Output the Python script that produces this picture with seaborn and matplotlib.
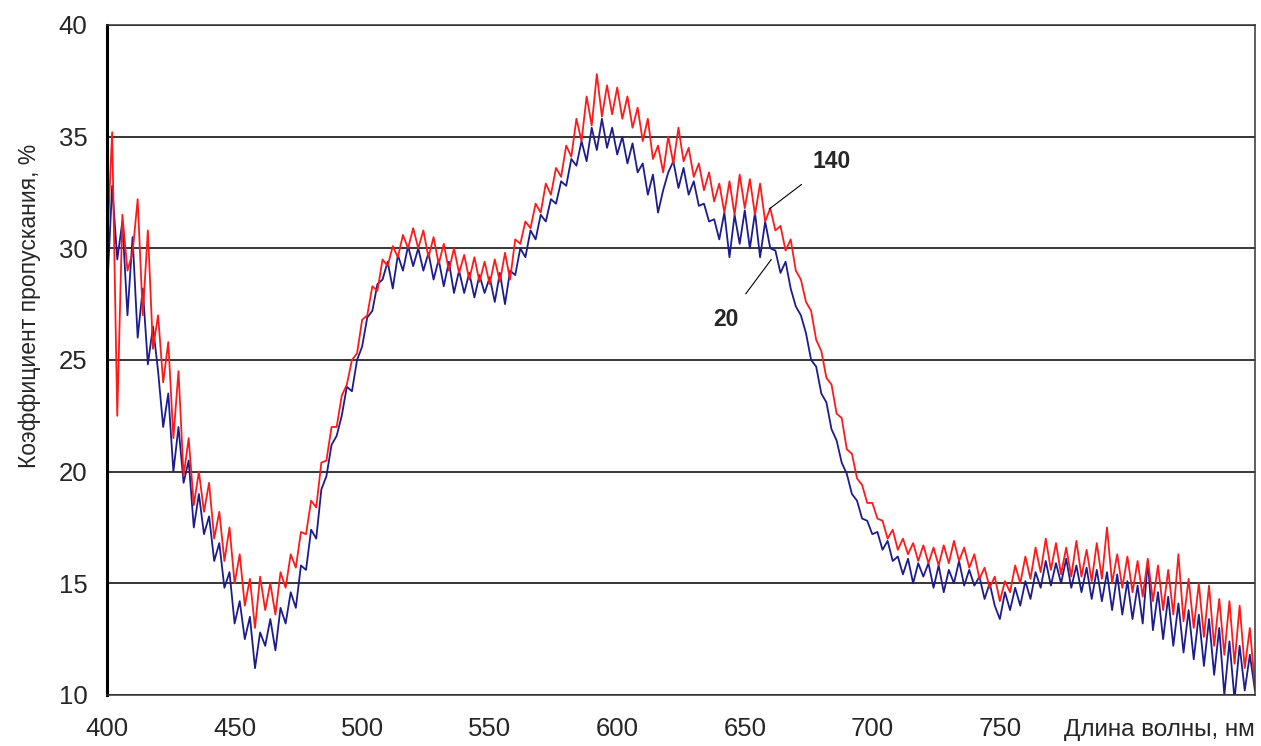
import numpy as np
import pandas as pd
import matplotlib
matplotlib.use("Agg")
import matplotlib.pyplot as plt
import seaborn as sns

# wavelength grid, nm (every 2 nm, 400..850)
wavelength = list(range(400, 852, 2))

# transmission, %  -- sample "20"
t_20 = [
    28.0, 32.8, 29.5, 31.2, 27.0, 30.5, 26.0, 28.2, 24.8, 26.5,   # 400-418
    24.5, 22.0, 23.5, 20.0, 22.0, 19.5, 20.5, 17.5, 19.0, 17.2,   # 420-438
    18.0, 16.0, 16.8, 14.8, 15.5, 13.2, 14.2, 12.5, 13.5, 11.2,   # 440-458
    12.8, 12.2, 13.4, 12.0, 13.9, 13.2, 14.6, 13.9, 15.8, 15.6,   # 460-478
    17.4, 17.0, 19.2, 19.8, 21.2, 21.6, 22.5, 23.8, 23.6, 25.0,   # 480-498
    25.6, 26.9, 27.2, 28.4, 28.6, 29.4, 28.2, 29.7, 29.0, 30.1,   # 500-518
    29.2, 30.0, 29.0, 29.8, 28.6, 29.5, 28.3, 29.4, 28.0, 29.0,   # 520-538
    28.0, 28.9, 27.8, 28.8, 28.0, 28.7, 27.6, 28.9, 27.5, 29.0,   # 540-558
    28.8, 30.0, 29.6, 30.8, 30.4, 31.5, 31.2, 32.2, 32.0, 33.0,   # 560-578
    32.8, 34.0, 33.7, 34.8, 33.9, 35.4, 34.4, 35.8, 34.5, 35.4,   # 580-598
    34.2, 35.0, 33.8, 34.7, 33.4, 33.8, 32.4, 33.3, 31.6, 32.6,   # 600-618
    33.4, 33.9, 32.7, 33.6, 32.4, 33.0, 31.9, 32.0, 31.2, 31.3,   # 620-638
    30.4, 31.6, 29.6, 31.5, 30.2, 31.7, 30.0, 31.6, 29.6, 31.2,   # 640-658
    30.0, 29.9, 28.9, 29.4, 28.2, 27.4, 27.0, 26.2, 25.0, 24.7,   # 660-678
    23.5, 23.1, 21.9, 21.4, 20.4, 19.9, 19.0, 18.7, 17.9, 17.8,   # 680-698
    17.2, 17.3, 16.5, 16.9, 16.0, 16.2, 15.4, 16.1, 15.0, 15.9,   # 700-718
    15.3, 15.9, 14.8, 15.8, 14.6, 15.6, 15.0, 16.0, 14.9, 15.6,   # 720-738
    14.9, 15.3, 14.3, 15.0, 14.0, 13.4, 14.6, 13.8, 14.8, 14.0,   # 740-758
    15.1, 14.3, 15.5, 14.8, 16.0, 14.9, 15.9, 15.0, 16.1, 14.8,   # 760-778
    15.8, 14.6, 15.7, 14.3, 15.6, 14.2, 15.5, 13.8, 15.4, 13.6,   # 780-798
    15.1, 13.4, 14.9, 13.2, 16.0, 12.9, 14.6, 12.5, 14.4, 12.2,   # 800-818
    14.1, 11.9, 13.8, 11.6, 13.6, 11.3, 13.4, 10.9, 13.0, 10.0,   # 820-838
    12.4, 9.8, 12.2, 10.2, 11.8, 10.2,                            # 840-850
]

# transmission, %  -- sample "140"
t_140 = [
    30.0, 35.2, 22.5, 31.5, 29.0, 29.8, 32.2, 27.0, 30.8, 25.5,   # 400-418
    27.0, 24.0, 25.8, 21.5, 24.5, 19.8, 21.5, 18.5, 20.0, 18.2,   # 420-438
    19.5, 17.0, 18.2, 16.0, 17.5, 15.0, 16.3, 14.0, 15.2, 13.0,   # 440-458
    15.3, 13.8, 15.0, 13.6, 15.5, 14.8, 16.3, 15.7, 17.3, 17.2,   # 460-478
    18.7, 18.4, 20.4, 20.5, 22.0, 22.0, 23.4, 23.9, 25.0, 25.3,   # 480-498
    26.8, 27.0, 28.3, 28.1, 29.5, 29.2, 30.1, 29.6, 30.6, 30.0,   # 500-518
    30.9, 30.0, 30.8, 29.6, 30.5, 29.3, 30.2, 29.0, 30.0, 28.9,   # 520-538
    29.7, 28.6, 29.6, 28.5, 29.4, 28.4, 29.5, 28.5, 29.8, 28.6,   # 540-558
    30.4, 30.2, 31.2, 30.9, 32.0, 31.6, 32.9, 32.4, 33.6, 33.2,   # 560-578
    34.6, 34.1, 35.8, 34.8, 36.8, 35.5, 37.8, 35.9, 37.3, 36.0,   # 580-598
    37.2, 35.8, 36.8, 35.4, 36.3, 34.8, 35.8, 34.0, 34.6, 33.4,   # 600-618
    35.0, 33.8, 35.4, 33.9, 34.5, 33.2, 33.8, 32.6, 33.4, 32.1,   # 620-638
    32.9, 31.6, 33.0, 31.5, 33.3, 31.8, 33.1, 31.5, 32.9, 31.2,   # 640-658
    31.8, 30.8, 31.0, 29.9, 30.4, 29.0, 28.6, 27.6, 27.2, 25.9,   # 660-678
    25.4, 24.2, 23.9, 22.6, 22.4, 21.0, 20.8, 19.7, 19.4, 18.6,   # 680-698
    18.6, 17.9, 17.8, 17.0, 17.4, 16.5, 17.0, 16.3, 16.8, 16.0,   # 700-718
    16.7, 15.9, 16.6, 15.8, 16.7, 15.9, 16.9, 16.0, 16.6, 15.7,   # 720-738
    16.3, 15.2, 15.7, 14.8, 15.3, 14.2, 15.1, 14.6, 15.8, 15.0,   # 740-758
    16.2, 15.2, 16.6, 15.5, 17.0, 15.6, 16.8, 15.4, 16.6, 15.3,   # 760-778
    16.9, 15.3, 16.5, 15.1, 16.8, 15.2, 17.5, 15.0, 16.3, 14.8,   # 780-798
    16.2, 14.6, 16.0, 14.4, 16.1, 14.2, 15.8, 13.8, 15.6, 13.6,   # 800-818
    16.3, 13.3, 15.2, 13.0, 15.0, 12.6, 14.9, 12.2, 14.3, 11.8,   # 820-838
    14.2, 11.4, 14.0, 11.2, 13.0, 10.4,                           # 840-850
]

series_names = ["20", "140"]
series_colors = ["#1c1c8f", "#ff1a1a"]

df = pd.concat([
    pd.DataFrame({"wl": wavelength, "T": t_20, "sample": "20"}),
    pd.DataFrame({"wl": wavelength, "T": t_140, "sample": "140"}),
])

sns.set_style("white")
plt.rcParams["font.family"] = ["Liberation Sans", "DejaVu Sans"]

fig = plt.figure(figsize=(12.61, 7.46), dpi=100)
ax = fig.add_axes([0.0849, 0.0684, 0.9103, 0.8981])

sns.lineplot(data=df, x="wl", y="T", hue="sample", hue_order=series_names,
             palette=dict(zip(series_names, series_colors)), estimator=None,
             linewidth=1.3, legend=False, ax=ax)

ax.set_xlim(400, 850)
ax.set_ylim(10, 40)
ax.set_xticks(range(400, 851, 50))
ax.set_xticklabels([str(v) if v <= 750 else "" for v in range(400, 851, 50)])
ax.set_yticks(range(10, 41, 5))
ax.yaxis.grid(True, color="black", linewidth=1.1)
ax.set_axisbelow(True)
ax.tick_params(axis="both", direction="out", length=6, width=1, color="#333333",
               labelsize=18.5, pad=8)
ax.tick_params(axis="x", pad=10)

for side in ["top", "right", "bottom"]:
    ax.spines[side].set_color("#333333")
    ax.spines[side].set_linewidth(1.1)
ax.spines["left"].set_color("black")
ax.spines["left"].set_linewidth(2.2)

ax.set_xlabel("")
ax.set_ylabel("")
fig.text(0.9952, 0.021, "Длина волны, нм", ha="right", va="center", fontsize=17.5)
fig.text(0.023, 0.59, "Коэффициент пропускания, %", rotation=90,
         ha="center", va="center", fontsize=16.5)

ax.annotate("140", xy=(659.6, 31.76), xytext=(684.2, 33.9), ha="center", va="center",
            fontsize=16.5, fontweight="bold",
            arrowprops=dict(arrowstyle="-", color="black", lw=0.8, shrinkB=0, shrinkA=10))
ax.annotate("20", xy=(660.4, 29.5), xytext=(642.8, 26.8), ha="center", va="center",
            fontsize=16.5, fontweight="bold",
            arrowprops=dict(arrowstyle="-", color="black", lw=0.8, shrinkB=0, shrinkA=10))

fig.savefig("out.png", dpi=100)
